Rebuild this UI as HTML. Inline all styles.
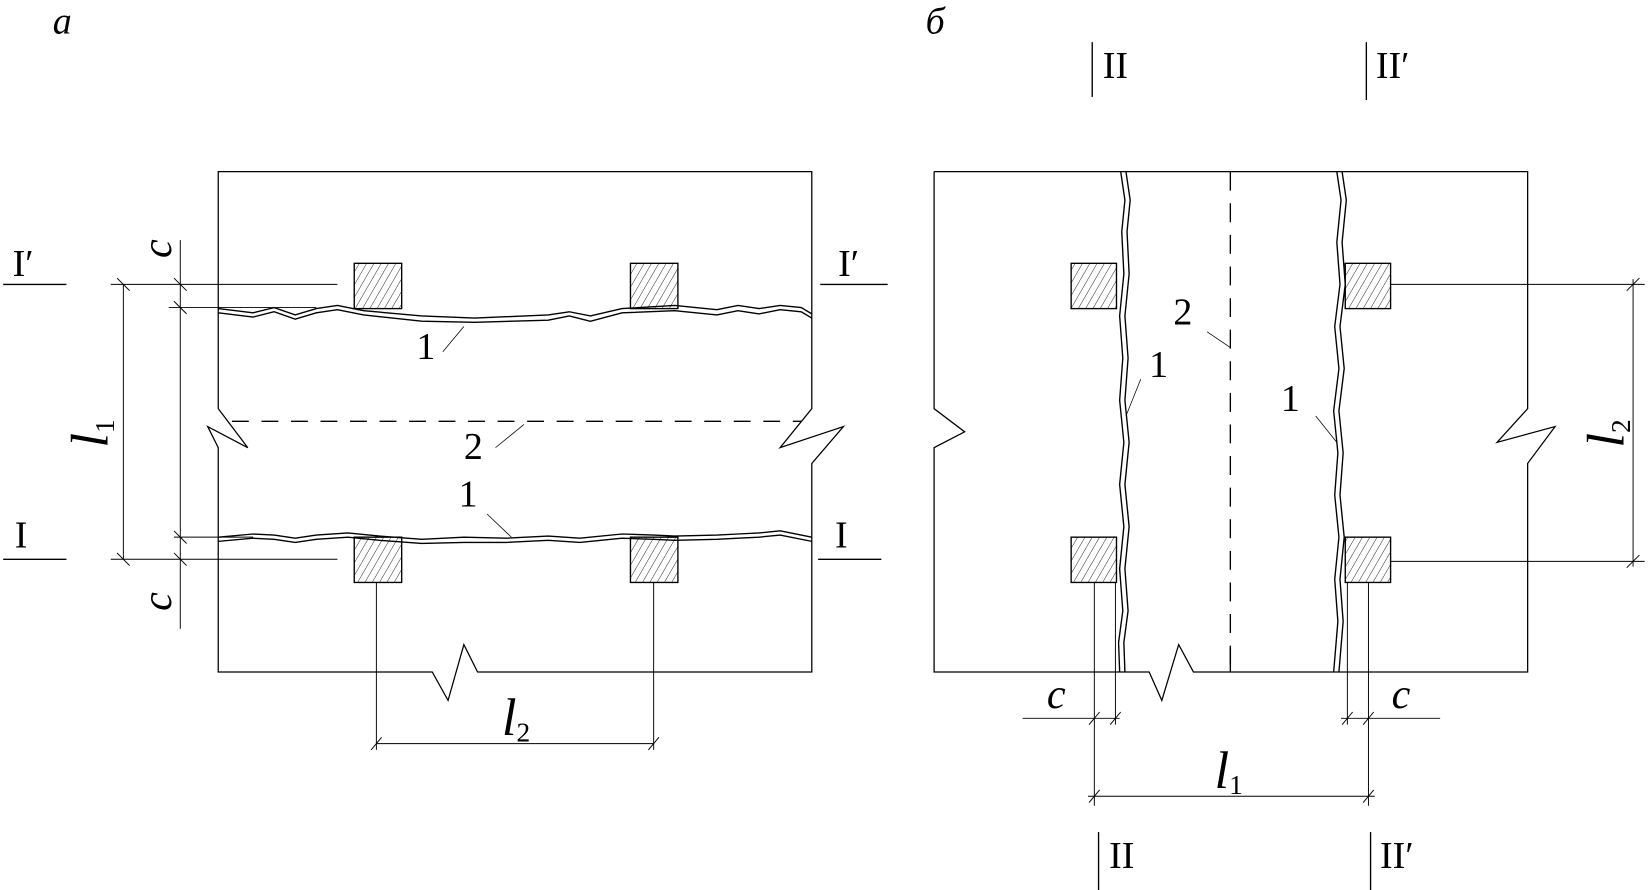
<!DOCTYPE html>
<html><head><meta charset="utf-8"><style>
html,body{margin:0;padding:0;background:#fff;}
svg{display:block;}
text{font-family:"Liberation Serif","Times New Roman","DejaVu Serif",serif;fill:#000;}
.i{font-style:italic;}
</style></head><body>
<svg width="1651" height="890" viewBox="0 0 1566 845" preserveAspectRatio="none" xmlns="http://www.w3.org/2000/svg">
<defs>
<pattern id="h" width="6" height="6" patternUnits="userSpaceOnUse" patternTransform="rotate(30)">
<line x1="0" y1="0" x2="0" y2="6" stroke="#000" stroke-width="0.8"/>
</pattern>
</defs>
<g stroke="#000" stroke-width="1.3" fill="none">
<polyline points="207,388 207,163 770,163 770,388 740,425 800,405 770,440 770,638 453,638 440,612 425,665 410,638 207,638 207,425 197,405 235,425 207,388" stroke-width="1.2"/>
<line x1="220" y1="400" x2="760" y2="400" stroke-dasharray="16,12"/>
<line x1="470" y1="425" x2="497" y2="403" stroke-width="0.7"/>
<polyline points="207,293 240,297 260,292 280,299 300,293 320,290 345,295 400,300 450,302 520,299 540,296 560,300 590,293 640,290 680,294 700,290 720,293 740,290 760,292 770,298"/>
<polyline points="207,297 240,301 260,296 280,303 300,297 320,294 345,299 400,305 450,306 520,304 540,300 560,305 590,297 640,295 680,299 700,295 720,298 740,294 760,296 770,302"/>
<line x1="420" y1="334" x2="440" y2="310" stroke-width="0.7"/>
<polyline points="207,510 240,507 260,508 280,511 300,508 330,506 360,509 400,512 440,510 480,511 520,509 550,511 590,507 620,508 640,509 680,508 700,507 720,506 740,504 770,510"/>
<polyline points="207,514 240,511 260,512 280,515 300,512 330,510 360,513 400,516 440,515 480,515 520,513 550,515 590,511 620,512 640,513 680,512 700,511 720,510 740,508 770,514"/>
<line x1="462" y1="488" x2="485" y2="510" stroke-width="0.7"/>
<rect x="336" y="250" width="45" height="43" fill="url(#h)"/>
<rect x="598" y="250" width="45" height="43" fill="url(#h)"/>
<rect x="336" y="510" width="45" height="43" fill="url(#h)"/>
<rect x="598" y="510" width="45" height="43" fill="url(#h)"/>
<line x1="3" y1="270" x2="63" y2="270"/><line x1="778" y1="270" x2="842" y2="270"/>
<line x1="3" y1="531" x2="63" y2="531"/><line x1="776" y1="531" x2="836" y2="531"/>
<g stroke-width="0.9">
<line x1="105" y1="270" x2="320" y2="270"/>
<line x1="160" y1="292" x2="300" y2="292"/>
<line x1="105" y1="531" x2="320" y2="531"/>
<line x1="165" y1="510" x2="240" y2="510"/>
<line x1="117" y1="270" x2="117" y2="531"/>
<line x1="171" y1="228" x2="171" y2="597"/>
<line x1="357" y1="553" x2="357" y2="712"/><line x1="620" y1="553" x2="620" y2="712"/>
<line x1="357" y1="706" x2="620" y2="706"/>
<line x1="111" y1="264" x2="123" y2="276"/><line x1="111" y1="525" x2="123" y2="537"/>
<line x1="165" y1="264" x2="177" y2="276"/><line x1="165" y1="286" x2="177" y2="298"/>
<line x1="165" y1="504" x2="177" y2="516"/><line x1="165" y1="525" x2="177" y2="537"/>
<line x1="352" y1="712" x2="362" y2="700"/><line x1="615" y1="712" x2="625" y2="700"/>
</g>
<polyline points="886,163 1449,163 1449,388 1420,420 1475,405 1449,440 1449,638 1132,638 1118,612 1102,665 1090,638 886,638 886,425 915,410 886,388 886,163" stroke-width="1.2"/>
<line x1="1167" y1="163" x2="1167" y2="638" stroke-dasharray="18,12"/>
<line x1="1167" y1="638" x2="1167" y2="615"/>
<line x1="1145" y1="315" x2="1167" y2="330" stroke-width="0.7"/>
<polyline points="1063,163 1067,190 1064,220 1066,260 1062,300 1065,340 1062,380 1066,420 1062,460 1066,500 1062,540 1065,580 1061,610 1062,638"/>
<polyline points="1068,163 1072,190 1069,220 1071,260 1067,300 1070,340 1067,380 1071,420 1067,460 1071,500 1067,540 1070,580 1066,610 1067,638"/>
<line x1="1082" y1="360" x2="1068" y2="395" stroke-width="0.7"/>
<polyline points="1268,163 1272,190 1268,230 1271,270 1266,310 1270,350 1265,390 1269,430 1266,470 1270,510 1266,550 1269,590 1265,638"/>
<polyline points="1273,163 1277,190 1273,230 1276,270 1271,310 1275,350 1270,390 1274,430 1271,470 1275,510 1271,550 1274,590 1270,638"/>
<line x1="1248" y1="395" x2="1268" y2="420" stroke-width="0.7"/>
<rect x="1016" y="250" width="43" height="43" fill="url(#h)"/>
<rect x="1276" y="250" width="43" height="43" fill="url(#h)"/>
<rect x="1016" y="510" width="43" height="43" fill="url(#h)"/>
<rect x="1276" y="510" width="43" height="43" fill="url(#h)"/>
<line x1="1036" y1="40" x2="1036" y2="92"/><line x1="1296" y1="40" x2="1296" y2="95"/>
<line x1="1042" y1="790" x2="1042" y2="845"/><line x1="1300" y1="790" x2="1300" y2="845"/>
<g stroke-width="0.9">
<line x1="1319" y1="270" x2="1560" y2="270"/>
<line x1="1319" y1="533" x2="1560" y2="533"/>
<line x1="1549" y1="265" x2="1549" y2="538"/>
<line x1="1543" y1="276" x2="1555" y2="264"/><line x1="1543" y1="539" x2="1555" y2="527"/>
<line x1="1038" y1="553" x2="1038" y2="765"/><line x1="1058" y1="553" x2="1058" y2="688"/>
<line x1="1278" y1="553" x2="1278" y2="688"/><line x1="1298" y1="553" x2="1298" y2="765"/>
<line x1="970" y1="682" x2="1062" y2="682"/><line x1="1272" y1="682" x2="1366" y2="682"/>
<line x1="1032" y1="756" x2="1304" y2="756"/>
<line x1="1033" y1="688" x2="1043" y2="676"/><line x1="1053" y1="688" x2="1063" y2="676"/>
<line x1="1273" y1="688" x2="1283" y2="676"/><line x1="1293" y1="688" x2="1303" y2="676"/>
<line x1="1033" y1="762" x2="1043" y2="750"/><line x1="1293" y1="762" x2="1303" y2="750"/>
</g>
</g>
<text x="50" y="32" font-size="36" class="i">a</text>
<text x="878" y="32" font-size="36" class="i">б</text>
<text x="12" y="262" font-size="36">I′</text>
<text x="795" y="262" font-size="36">I′</text>
<text x="14" y="520" font-size="36">I</text>
<text x="792" y="520" font-size="36">I</text>
<text x="0" y="0" font-size="40" class="i" transform="translate(162,245) rotate(-90)">c</text>
<text x="0" y="0" font-size="40" class="i" transform="translate(162,580) rotate(-90)">c</text>
<text x="0" y="0" font-size="50" class="i" transform="translate(102,425) rotate(-90)">l<tspan font-size="26" font-style="normal" dy="6">1</tspan></text>
<text x="476" y="698" font-size="50" class="i">l<tspan font-size="26" font-style="normal" dy="6">2</tspan></text>
<text x="395" y="341" font-size="36">1</text>
<text x="440" y="436" font-size="36">2</text>
<text x="435" y="481" font-size="36">1</text>
<text x="1046" y="74" font-size="36">II</text>
<text x="1305" y="74" font-size="36">II′</text>
<text x="1052" y="824" font-size="36">II</text>
<text x="1309" y="824" font-size="36">II′</text>
<text x="1113" y="308" font-size="36">2</text>
<text x="1090" y="358" font-size="36">1</text>
<text x="1215" y="390" font-size="36">1</text>
<text x="993" y="672" font-size="40" class="i">c</text>
<text x="1320" y="672" font-size="40" class="i">c</text>
<text x="1152" y="748" font-size="50" class="i">l<tspan font-size="26" font-style="normal" dy="6">1</tspan></text>
<text x="0" y="0" font-size="50" class="i" transform="translate(1540,425) rotate(-90)">l<tspan font-size="26" font-style="normal" dy="6">2</tspan></text>
</svg>
</body></html>
